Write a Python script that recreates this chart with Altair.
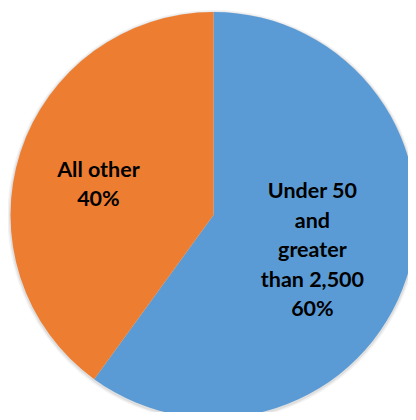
import altair as alt
import pandas as pd

categories = ["Under 50\nand\ngreater\nthan 2,500", "All other"]
values = [60, 40]
colors = ["#5B9BD5", "#ED7D31"]

df = pd.DataFrame({
    "category": categories,
    "value": values,
    "order": [0, 1],
    "label": [f"{c}\n{v}%" for c, v in zip(categories, values)],
})

CX, CY, R = 205.5, 207, 203
LH = 29.5

base = alt.Chart(df).encode(
    theta=alt.Theta("value:Q", stack=True),
    order=alt.Order("order:Q"),
)

glow1 = base.mark_arc(radius=R + 3, color="#000000", opacity=0.05).encode(
    x=alt.value(CX), y=alt.value(CY + 1)
)
glow2 = base.mark_arc(radius=R + 1.5, color="#000000", opacity=0.08).encode(
    x=alt.value(CX), y=alt.value(CY + 1)
)

pie = base.mark_arc(radius=R).encode(
    color=alt.Color("category:N", scale=alt.Scale(domain=categories, range=colors), legend=None),
    x=alt.value(CX), y=alt.value(CY),
)

lab = alt.Chart(df).transform_window(
    cum="sum(value)", sort=[alt.SortField("order")], frame=[None, 0]
).transform_calculate(mid="datum.cum - datum.value / 2")

def label_layer(idx, radius, extra_dy):
    n_lines = df["label"][idx].count("\n") + 1
    return lab.transform_filter(alt.datum.order == idx).mark_text(
        radius=radius, font="Lato", fontWeight="bold", fontSize=21.5, color="#000000",
        lineBreak="\n", lineHeight=LH, align="center", baseline="middle",
        dy=-(n_lines - 1) * LH / 2 + extra_dy,
    ).encode(
        theta=alt.Theta("mid:Q", scale=alt.Scale(domain=[0, sum(values)]), stack=None),
        text="label:N", x=alt.value(CX), y=alt.value(CY),
    )

chart = alt.layer(glow1, glow2, pie, label_layer(0, 104, 4), label_layer(1, 121, 8)).properties(
    width=400, height=404, padding=0, background="white",
    autosize=alt.AutoSizeParams(type="none"),
).configure_view(stroke=None)

chart.save("out.html", embed_options={"renderer": "svg", "actions": False})
